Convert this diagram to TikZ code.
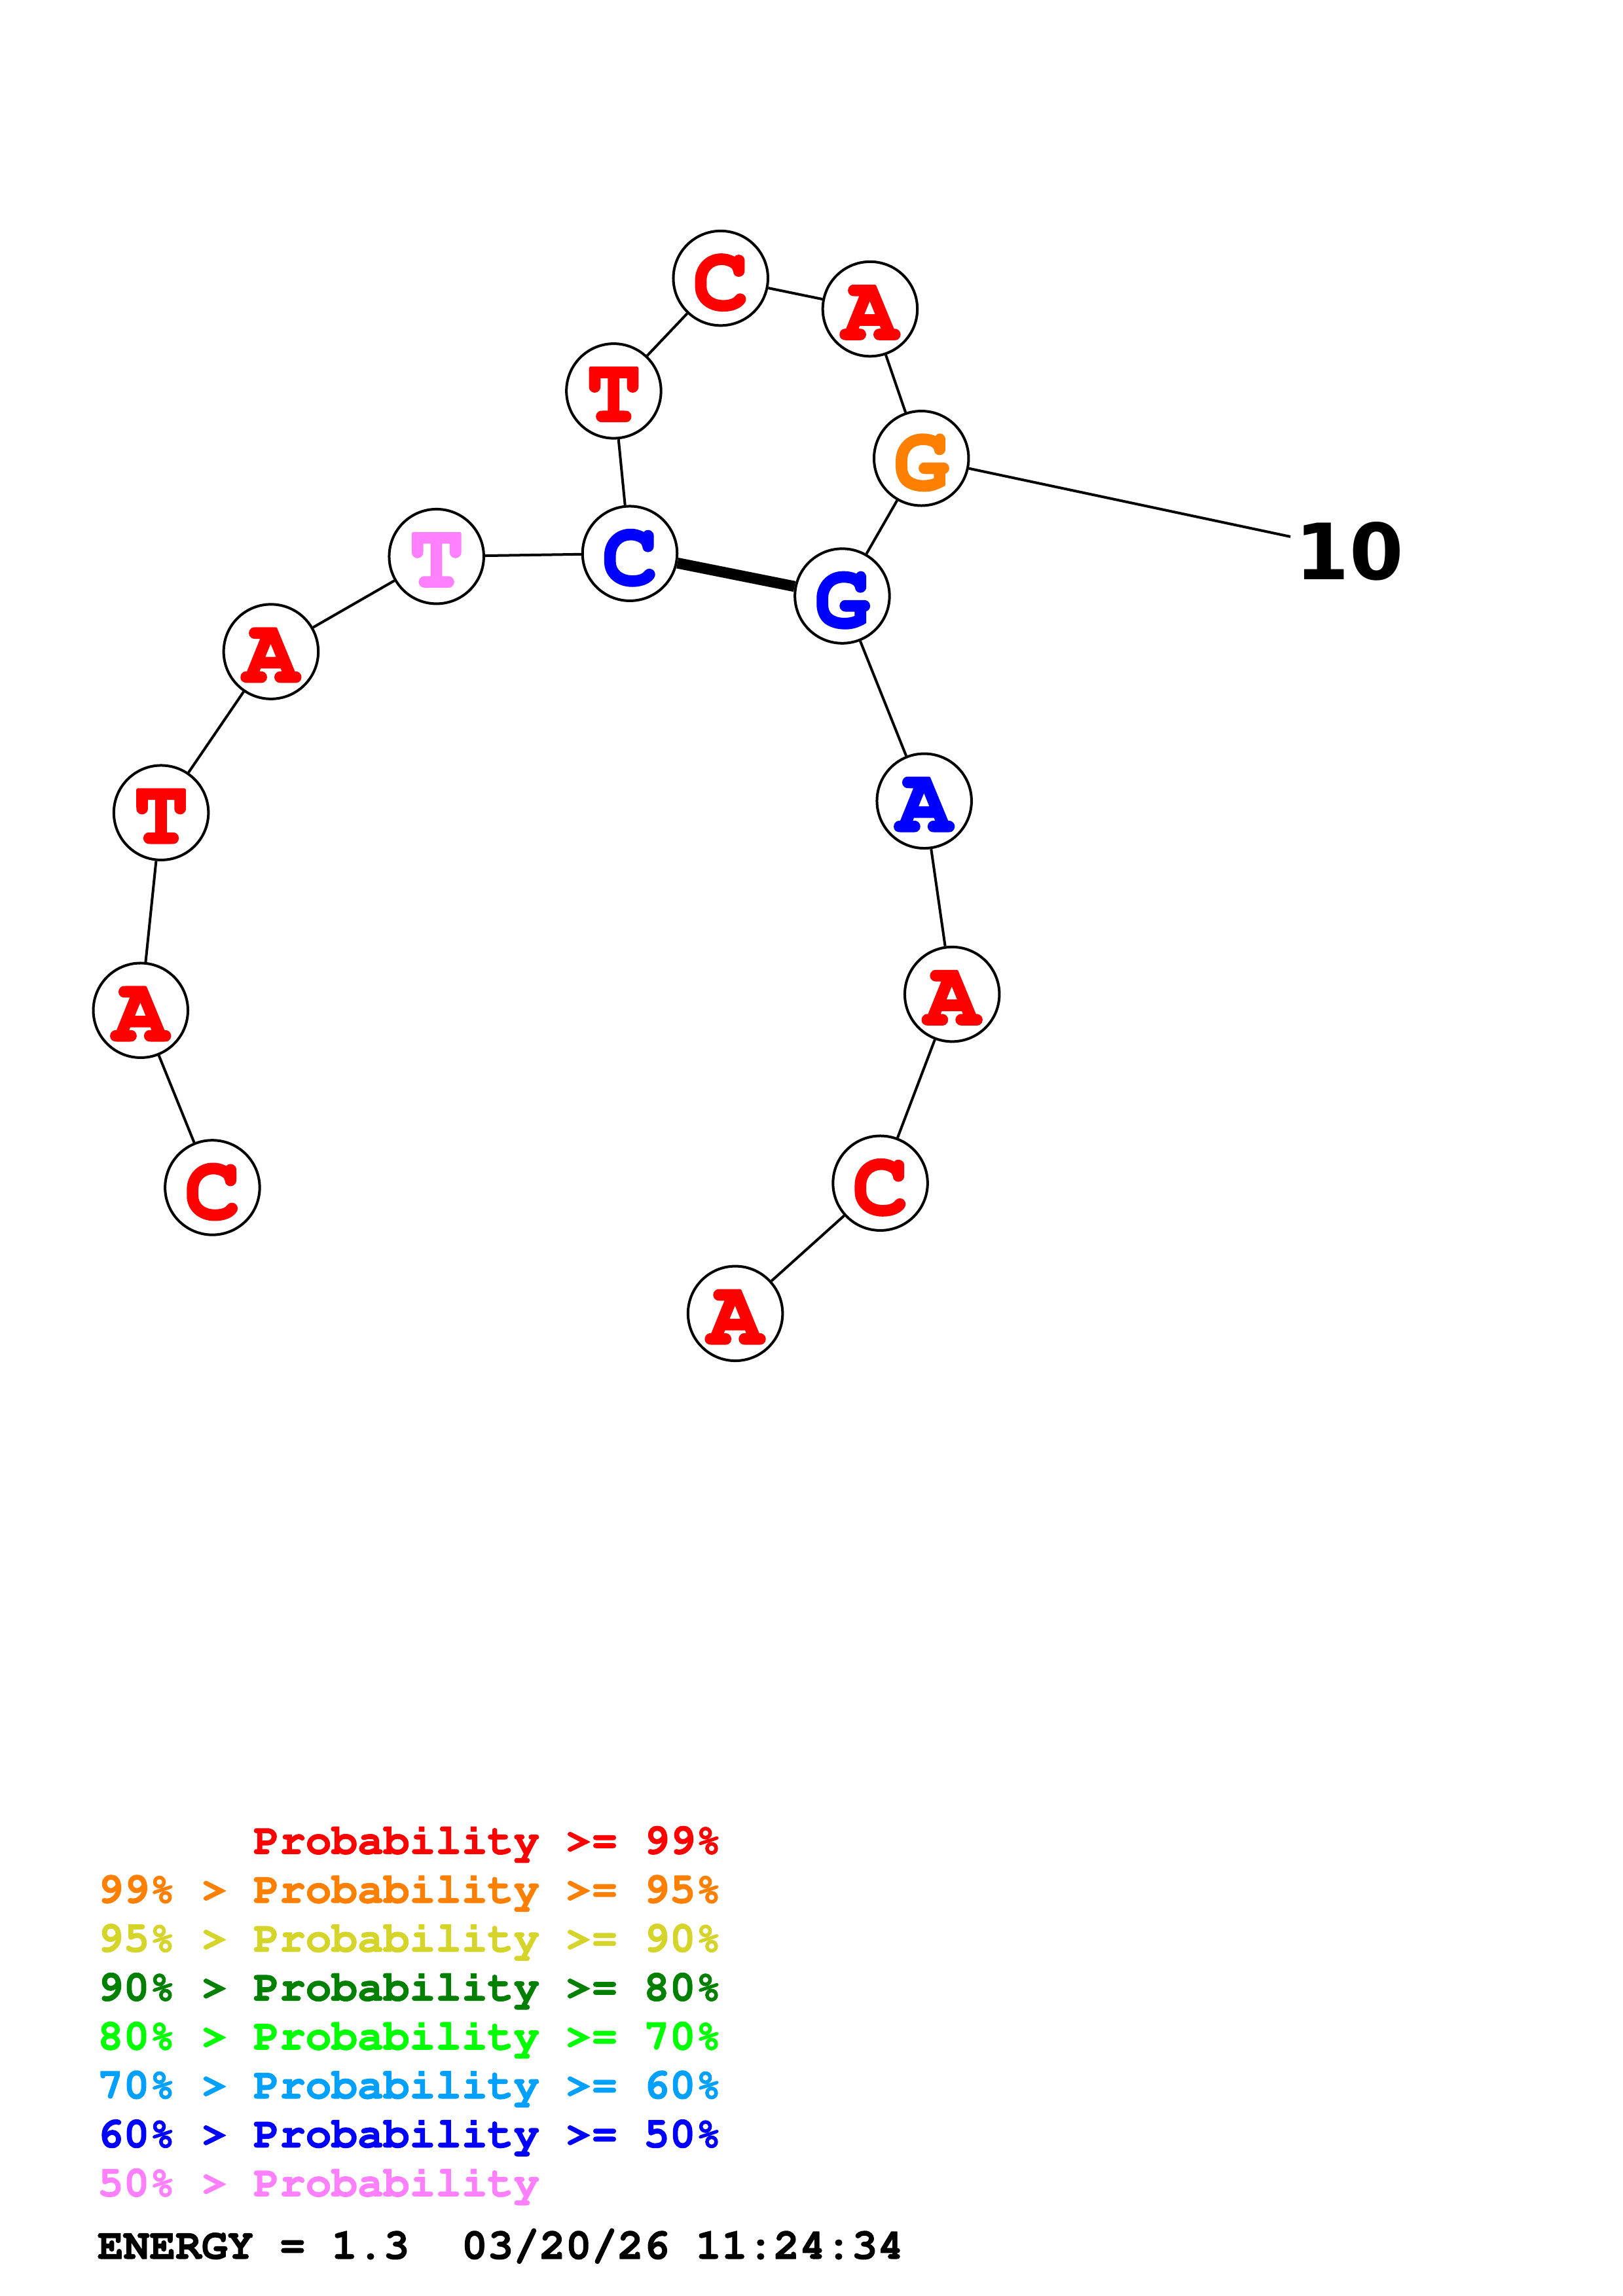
\documentclass[tikz,border=0pt]{standalone}
\usepackage[T1]{fontenc}
\usepackage{fontspec}
\newfontfamily\dvs{DejaVu Sans}
\newcommand{\courbf}{\fontencoding{T1}\fontfamily{pcr}\fontseries{b}\fontshape{n}\selectfont}
\newcommand{\heavy}[2]{\special{pdf:literal direct q #1 w 1 j 2 Tr}#2\special{pdf:literal direct Q}}
\newcommand{\ntl}[1]{\raisebox{-1.7pt}[\height][\depth]{\heavy{0.9}{#1}}}
\newcommand{\legl}[1]{\heavy{0.25}{#1}}
\definecolor{pred}{RGB}{255,0,0}
\definecolor{porange}{RGB}{255,128,0}
\definecolor{pyellow}{RGB}{212,212,42}
\definecolor{pdgreen}{RGB}{0,128,0}
\definecolor{plgreen}{RGB}{0,255,0}
\definecolor{psky}{RGB}{0,160,255}
\definecolor{pblue}{RGB}{0,0,255}
\definecolor{ppink}{RGB}{255,128,255}
\tikzset{
  nt/.style={circle, draw=black, fill=white, line width=0.96pt, minimum size=34.7pt,
    inner sep=0pt, font=\courbf\fontsize{33.5}{33.5}\selectfont},
  bb/.style={line width=0.96pt, draw=black},
  pairline/.style={line width=4pt, draw=black},
  leg/.style={anchor=base west, inner sep=0pt, font=\courbf\fontsize{15.9}{16}\selectfont},
  numlab/.style={anchor=base west, inner sep=0pt, font=\dvs\bfseries\fontsize{28.5}{28.5}\selectfont}
}
\begin{document}
\begin{tikzpicture}[x=0.5373pt,y=-0.5373pt]
\useasboundingbox (0,0) rectangle (1108,1568);
\fill[white] (0,0) rectangle (1108,1568);
% nucleotides
\node[nt, text=pred]    (n1)  at (145,811) {\ntl{C}};
\node[nt, text=pred]    (n2)  at (96,690)  {\ntl{A}};
\node[nt, text=pred]    (n3)  at (110,555) {\ntl{T}};
\node[nt, text=pred]    (n4)  at (185,445) {\ntl{A}};
\node[nt, text=ppink]   (n5)  at (298,380) {\ntl{T}};
\node[nt, text=pblue]   (n6)  at (430,378) {\ntl{C}};
\node[nt, text=pred]    (n7)  at (419,267) {\ntl{T}};
\node[nt, text=pred]    (n8)  at (492,190) {\ntl{C}};
\node[nt, text=pred]    (n9)  at (594,211) {\ntl{A}};
\node[nt, text=porange] (n10) at (629,313) {\ntl{G}};
\node[nt, text=pblue]   (n11) at (575,407) {\ntl{G}};
\node[nt, text=pblue]   (n12) at (631,547) {\ntl{A}};
\node[nt, text=pred]    (n13) at (650,679) {\ntl{A}};
\node[nt, text=pred]    (n14) at (601,808) {\ntl{C}};
\node[nt, text=pred]    (n15) at (502,897) {\ntl{A}};
% backbone
\draw[bb] (n1) -- (n2);
\draw[bb] (n2) -- (n3);
\draw[bb] (n3) -- (n4);
\draw[bb] (n4) -- (n5);
\draw[bb] (n5) -- (n6);
\draw[bb] (n6) -- (n7);
\draw[bb] (n7) -- (n8);
\draw[bb] (n8) -- (n9);
\draw[bb] (n9) -- (n10);
\draw[bb] (n10) -- (n11);
\draw[bb] (n11) -- (n12);
\draw[bb] (n12) -- (n13);
\draw[bb] (n13) -- (n14);
\draw[bb] (n14) -- (n15);
% pair
\draw[pairline] (n6) -- (n11);
% position label
\node[numlab] (lab10) at (884,396) {10};
\coordinate (e10) at (881,366.5);
\draw[bb] (n10) -- (e10);
% legend
\node[leg, text=pred]    (l1) at (66.2,1266)   {\legl{~~~~~~Probability~>=~99\%}};
\node[leg, text=porange] (l2) at (66.2,1299.4) {\legl{99\%~>~Probability~>=~95\%}};
\node[leg, text=pyellow] (l3) at (66.2,1332.8) {\legl{95\%~>~Probability~>=~90\%}};
\node[leg, text=pdgreen] (l4) at (66.2,1366.2) {\legl{90\%~>~Probability~>=~80\%}};
\node[leg, text=plgreen] (l5) at (66.2,1399.6) {\legl{80\%~>~Probability~>=~70\%}};
\node[leg, text=psky]    (l6) at (66.2,1433.0) {\legl{70\%~>~Probability~>=~60\%}};
\node[leg, text=pblue]   (l7) at (66.2,1466.4) {\legl{60\%~>~Probability~>=~50\%}};
\node[leg, text=ppink]   (l8) at (66.2,1499.8) {\legl{50\%~>~Probability}};
\node[leg, text=black]   (en) at (66.2,1542.5) {\legl{ENERGY~=~1.3~~03/20/26~11:24:34}};
\end{tikzpicture}
\end{document}
